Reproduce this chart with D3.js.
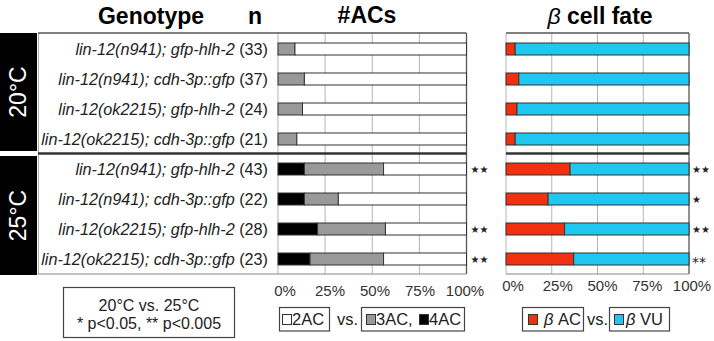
<!DOCTYPE html>
<html><head><meta charset="utf-8">
<script src="https://cdn.jsdelivr.net/npm/d3@7"></script>
<style>
html,body{margin:0;padding:0;background:#fff;}
svg{display:block;font-family:"Liberation Sans",Arial,sans-serif;}
</style></head>
<body>
<svg id="c" width="714" height="341"></svg>
<script>
// ---- data ----
const temps = ["20°C", "25°C"];
const genotypes = [
  "lin-12(n941); gfp-hlh-2", "lin-12(n941); cdh-3p::gfp",
  "lin-12(ok2215); gfp-hlh-2", "lin-12(ok2215); cdh-3p::gfp",
  "lin-12(n941); gfp-hlh-2", "lin-12(n941); cdh-3p::gfp",
  "lin-12(ok2215); gfp-hlh-2", "lin-12(ok2215); cdh-3p::gfp"
];
const nValues = [33, 37, 24, 21, 43, 22, 28, 23];
const ac4 = [0, 0, 0, 0, 14, 14, 21, 17];      // % 4AC (black)
const ac3 = [9, 14, 13, 10, 42, 18, 36, 39];   // % 3AC (grey)
const ac2 = ac4.map((d, i) => 100 - d - ac3[i]); // % 2AC (white)
const betaAC = [5, 7, 6, 5, 35, 23, 32, 37];   // % beta AC (red)
const betaVU = betaAC.map(d => 100 - d);       // % beta VU (blue)
const sigAC = ["", "", "", "", "★★", "", "★★", "★★"];
const sigBeta = ["", "", "", "", "★★", "★", "★★", "**"];
const tickVals = [0, 25, 50, 75, 100];

// ---- layout ----
const svg = d3.select("#c");
const y = d3.scaleBand().domain(d3.range(8)).range([34, 274]);
const yTop = y.range()[0] - 1, yBot = y.range()[1];
const xA = d3.scaleLinear().domain([0, 100]).range([278, 466.5]);
const xB = d3.scaleLinear().domain([0, 100]).range([506, 689]);
const xAlab = d3.scaleLinear().domain([0, 100]).range([285, 465]);
const xBlab = d3.scaleLinear().domain([0, 100]).range([513, 692]);
const barH = 12;
const barY = i => y(i) + (y.bandwidth() - barH) / 2;

// titles
svg.append("text").attr("x", 151).attr("y", 24).attr("text-anchor", "middle")
  .attr("font-weight", "bold").attr("font-size", 23).text("Genotype");
svg.append("text").attr("x", 255).attr("y", 24).attr("text-anchor", "middle")
  .attr("font-weight", "bold").attr("font-size", 23).text("n");
svg.append("text").attr("x", 367).attr("y", 23).attr("text-anchor", "middle")
  .attr("font-weight", "bold").attr("font-size", 23).text("#ACs");
const t3 = svg.append("text").attr("x", 600).attr("y", 24).attr("text-anchor", "middle")
  .attr("font-size", 23);
t3.append("tspan").attr("font-style", "italic").text("β");
t3.append("tspan").attr("font-weight", "bold").text("  cell fate");

// temperature blocks
temps.forEach((t, g) => {
  const y0 = g === 0 ? 33 : 156, y1 = g === 0 ? 151 : 275;
  svg.append("rect").attr("x", 0).attr("y", y0).attr("width", 37).attr("height", y1 - y0).attr("fill", "#000");
  svg.append("text").attr("transform", `translate(26,${(y0 + y1) / 2}) rotate(-90)`)
    .attr("text-anchor", "middle").attr("fill", "#fff").attr("font-size", 23).text(t);
});

// label area frame
svg.append("line").attr("x1", 38.5).attr("x2", 38.5).attr("y1", yTop).attr("y2", yBot)
  .attr("stroke", "#aaa").attr("stroke-width", 1);

// gridlines (both panels)
[xA, xB].forEach(sc => {
  svg.selectAll(null).data(tickVals.slice(0, 4)).enter().append("line")
    .attr("x1", d => sc(d)).attr("x2", d => sc(d)).attr("y1", yTop).attr("y2", yBot)
    .attr("stroke", "#b4b4b4").attr("stroke-width", 1);
});
// right frame lines
[xA, xB].forEach(sc => {
  svg.append("line").attr("x1", sc(100)).attr("x2", sc(100)).attr("y1", yTop).attr("y2", yBot)
    .attr("stroke", "#555").attr("stroke-width", 1.3);
});
// horizontal frame lines
[[38, xA(100)], [xB(0), xB(100)]].forEach(([a, b]) => {
  svg.append("line").attr("x1", a).attr("x2", b).attr("y1", yTop).attr("y2", yTop).attr("stroke", "#555").attr("stroke-width", 1.3);
  svg.append("line").attr("x1", a).attr("x2", b).attr("y1", y(4) - 0.5).attr("y2", y(4) - 0.5).attr("stroke", "#333").attr("stroke-width", 2.5);
  svg.append("line").attr("x1", a).attr("x2", b).attr("y1", yBot).attr("y2", yBot).attr("stroke", "#888").attr("stroke-width", 1.2);
});

// row labels
genotypes.forEach((gname, i) => {
  const t = svg.append("text").attr("x", 268).attr("y", y(i) + y.bandwidth() / 2 + 6)
    .attr("text-anchor", "end").attr("font-size", 16.2).attr("fill", "#222");
  t.append("tspan").attr("font-style", "italic").text(gname);
  t.append("tspan").text(" (" + nValues[i] + ")");
});

// #ACs stacked bars
const acStack = d3.range(8).map(i => [
  { x0: 0, x1: ac4[i], fill: "#000" },
  { x0: ac4[i], x1: ac4[i] + ac3[i], fill: "#999" },
  { x0: ac4[i] + ac3[i], x1: ac4[i] + ac3[i] + ac2[i], fill: "#fff" }
]);
acStack.forEach((segs, i) => {
  svg.selectAll(null).data(segs.filter(s => s.x1 > s.x0)).enter().append("rect")
    .attr("x", s => xA(s.x0)).attr("width", s => xA(s.x1) - xA(s.x0))
    .attr("y", barY(i)).attr("height", barH)
    .attr("fill", s => s.fill).attr("stroke", "#333").attr("stroke-width", 1);
});

// beta stacked bars
d3.range(8).forEach(i => {
  const segs = [
    { x0: 0, x1: betaAC[i], fill: "#f2300f" },
    { x0: betaAC[i], x1: betaAC[i] + betaVU[i], fill: "#1ec8f0" }
  ];
  svg.selectAll(null).data(segs).enter().append("rect")
    .attr("x", s => xB(s.x0)).attr("width", s => xB(s.x1) - xB(s.x0))
    .attr("y", barY(i)).attr("height", barH)
    .attr("fill", s => s.fill).attr("stroke", "#333").attr("stroke-width", 1);
});

// significance marks
d3.range(8).forEach(i => {
  const cy = y(i) + y.bandwidth() / 2 + 4;
  if (sigAC[i]) svg.append("text").attr("x", xA(100) + 4).attr("y", cy)
    .attr("font-size", 10).attr("font-family", "DejaVu Sans").attr("fill", "#222").text(sigAC[i]);
  if (sigBeta[i]) {
    const ast = sigBeta[i].includes("*");
    svg.append("text").attr("x", xB(100) + 3).attr("y", ast ? cy + 4 : cy)
      .attr("font-size", ast ? 14 : 10).attr("font-family", "DejaVu Sans").attr("fill", "#222").text(sigBeta[i]);
  }
});

// tick labels
svg.selectAll(null).data(tickVals).enter().append("text")
  .attr("x", d => xAlab(d)).attr("y", 296).attr("text-anchor", "middle")
  .attr("font-size", 15).attr("fill", "#333").text(d => d + "%");
svg.selectAll(null).data(tickVals).enter().append("text")
  .attr("x", d => xBlab(d)).attr("y", 291).attr("text-anchor", "middle")
  .attr("font-size", 15).attr("fill", "#333").text(d => d + "%");

// significance legend box
svg.append("rect").attr("x", 63.5).attr("y", 287.5).attr("width", 171).attr("height", 50)
  .attr("fill", "#fff").attr("stroke", "#444").attr("stroke-width", 1.2);
svg.append("text").attr("x", 149).attr("y", 311).attr("text-anchor", "middle").attr("font-size", 16).attr("fill", "#222")
  .text("20°C vs. 25°C");
svg.append("text").attr("x", 149).attr("y", 329).attr("text-anchor", "middle").attr("font-size", 16).attr("fill", "#222")
  .text("* p<0.05, ** p<0.005");

// legends
function legBox(x, w) {
  svg.append("rect").attr("x", x).attr("y", 307.5).attr("width", w).attr("height", 23.5)
    .attr("fill", "#fff").attr("stroke", "#444").attr("stroke-width", 1.2);
}
function legSq(x, fill) {
  svg.append("rect").attr("x", x).attr("y", 314.5).attr("width", 9).attr("height", 10)
    .attr("fill", fill).attr("stroke", "#333").attr("stroke-width", 1);
}
function legText(x, txt, italicBeta) {
  const t = svg.append("text").attr("x", x).attr("y", 325).attr("font-size", 16.5).attr("fill", "#222");
  if (italicBeta) { t.append("tspan").attr("font-style", "italic").text("β"); t.append("tspan").text(" " + txt); }
  else t.text(txt);
}
legBox(279.5, 50); legSq(282.5, "#fff"); legText(292, "2AC");
legText(337, "vs.");
legBox(361.5, 103); legSq(366.5, "#999"); legText(376, "3AC,"); legSq(419.5, "#000"); legText(429, "4AC");
legBox(522.5, 61); legSq(528.5, "#f2300f"); legText(544, "AC", true);
legText(587, "vs.");
legBox(609.5, 60); legSq(614.5, "#1ec8f0"); legText(626, "VU", true);
</script>
</body></html>
